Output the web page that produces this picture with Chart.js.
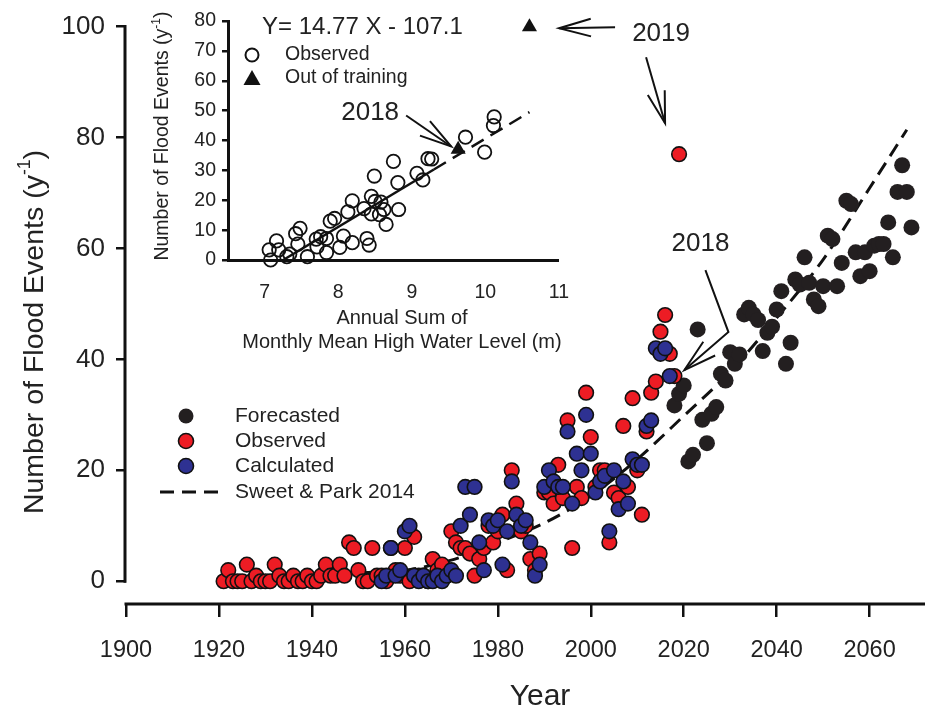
<!DOCTYPE html>
<html lang="en">
<head>
<meta charset="UTF-8">
<title>Number of Flood Events</title>
<script src="https://cdn.jsdelivr.net/npm/chart.js"></script>
<style>
  body { margin: 0; background: #fff; }
  #wrap { position: relative; width: 925px; height: 712px; }
  #main { position: absolute; left: 0; top: 0; }
  #inset { position: absolute; left: 140px; top: 0; }
</style>
</head>
<body>
<div id="wrap">
  <canvas id="main" width="925" height="712"></canvas>
  <canvas id="inset" width="450" height="370"></canvas>
</div>
<script>
// ---- main panel data ----
const obsStart = 1921;
const observed = [
  0, 2, 0, 0, 0, 3, 0, 1, 0, 0,
  0, 3, 1, 0, 0, 1, 0, 0, 1, 0,
  0, 1, 3, 1, 1, 3, 1, 7, 6, 2,
  0, 0, 6, 1, 1, 0, 6, 2, 1, 6,
  0, 8, 1, 1, 0, 4, 2, 3, 1, 9,
  7, 6, 6, 5, 1, 4, 6, 10, 7, 9,
  12, 2, 20, 14, 9, 10, 4, 2, 5, 16,
  16, 14, 21, 15, 29, 6, 17, 15, 34, 26,
  17, 20, 20, 7, 16, 15, 28, 17, 33, 20,
  12, 27, 34, 36, 45, 48, 41, 37, 77
];
const calcStart = 1955;
const calculated = [
  0, 1, 6, 1, 2, 9, 10, 1, 0, 1,
  0, 0, 1, 0, 1, 2, 1, 10, 17, 12,
  17, 7, 2, 11, 10, 11, 3, 9, 18, 12,
  10, 11, 7, 1, 3, 17, 20, 18, 17, 17,
  27, 14, 23, 20, 30, 23, 16, 18, 19, 9,
  20, 13, 18, 14, 22, 21, 21, 28, 29, 42,
  41, 42, 37
];
const fcStart = 2018;
const forecasted = [
  31.7, 33.8, 35.3, 21.6, 22.8, 45.4, 29.1, 24.9, 30.2, 31.4,
  37.4, 36.2, 41.3, 39.2, 40.9, 48.1, 49.3, 48.1, 47.1, 41.5,
  44.8, 45.9, 49.0, 52.3, 39.2, 43.0, 54.4, 53.5, 58.4, 53.8,
  50.8, 49.6, 53.2, 62.3, 61.7, 53.2, 57.4, 68.6, 68.0, 59.3,
  55.0, 59.3, 55.9, 60.5, 60.8, 60.8, 64.7, 58.4, 70.2, 75.0,
  70.2, 63.8
];
const sweetYears  = [1950, 1960, 1970, 1980, 1990, 2000, 2010, 2020, 2030, 2040, 2050, 2060, 2068];
const sweetValues = [1.5, 2, 3.8, 7, 10.5, 15.4, 22, 29.8, 37.8, 47.5, 58, 70.9, 81.4];
const yearTicks  = [1900, 1920, 1940, 1960, 1980, 2000, 2020, 2040, 2060];
const countTicks = [0, 20, 40, 60, 80, 100];

// ---- inset data ----
const levelObs = [7.06, 7.08, 7.16, 7.19, 7.30, 7.34, 7.42, 7.48, 7.45, 7.58,
  7.71, 7.76, 7.70, 7.84, 7.84, 7.89, 7.95, 8.02, 8.07, 8.13,
  8.19, 8.19, 8.39, 8.42, 8.35, 8.45, 8.49, 8.45, 8.50, 8.58,
  8.56, 8.62, 8.65, 8.75, 8.81, 8.82, 9.07, 9.15, 9.22, 9.27,
  9.73, 9.99, 10.11, 10.12];
const eventsObs = [3.4, 0, 6.4, 3.4, 1.1, 2, 8.8, 10.6, 5.3, 1.1,
  4.4, 7.8, 7, 2.5, 7.2, 13, 13.9, 4.2, 8, 16.1,
  5.8, 19.8, 7.2, 5, 17.2, 21.3, 28.1, 15.4, 19.6, 19.4,
  15.2, 16.9, 11.9, 33, 25.9, 16.9, 29, 26.8, 33.9, 33.8,
  41.1, 36.1, 45, 47.9];
const levelOut  = [9.63, 10.6];   // 2018, 2019
const eventsOut = [37, 78];
const fitSolidX = [7.25, 9.3];
const fitSolidY = [0, 30.3];
const fitDashX  = [9.3, 10.6];
const fitDashY  = [30.3, 49.5];
const levelTicks = [7, 8, 9, 10, 11];
const eventTicks = [0, 10, 20, 30, 40, 50, 60, 70, 80];

const FONT = '"Liberation Sans", Arial, sans-serif';
const RED = '#ED1C24', BLUE = '#2E3192', BLACK = '#231F20';

const series = (start, vals) => vals.map((v, i) => ({ x: start + i, y: v }));
const pairs = (xs, ys) => xs.map((x, i) => ({ x: x, y: ys[i] }));

function arrow(ctx, pts, head, ang) {
  ctx.beginPath();
  ctx.moveTo(pts[0][0], pts[0][1]);
  pts.slice(1).forEach(p => ctx.lineTo(p[0], p[1]));
  ctx.stroke();
  const [x1, y1] = pts[pts.length - 2], [x2, y2] = pts[pts.length - 1];
  const a = Math.atan2(y2 - y1, x2 - x1);
  ctx.beginPath();
  ctx.moveTo(x2 - head * Math.cos(a - ang), y2 - head * Math.sin(a - ang));
  ctx.lineTo(x2, y2);
  ctx.lineTo(x2 - head * Math.cos(a + ang), y2 - head * Math.sin(a + ang));
  ctx.stroke();
}

function supTitle(ctx, cx, cy, size) {
  const a = 'Number of Flood Events (y', b = '-1', c = ')';
  ctx.save();
  ctx.translate(cx, cy);
  ctx.rotate(-Math.PI / 2);
  ctx.fillStyle = '#222';
  ctx.textBaseline = 'middle';
  ctx.textAlign = 'left';
  ctx.font = size + 'px ' + FONT;
  const wa = ctx.measureText(a).width, wc = ctx.measureText(c).width;
  ctx.font = (size * 0.62) + 'px ' + FONT;
  const wb = ctx.measureText(b).width;
  let x = -(wa + wb + wc) / 2;
  ctx.font = size + 'px ' + FONT;
  ctx.fillText(a, x, 0); x += wa;
  ctx.font = (size * 0.62) + 'px ' + FONT;
  ctx.fillText(b, x, -size * 0.33); x += wb;
  ctx.font = size + 'px ' + FONT;
  ctx.fillText(c, x, 0);
  ctx.restore();
}

function dot(ctx, x, y, r, fill, stroke) {
  ctx.beginPath();
  ctx.arc(x, y, r, 0, Math.PI * 2);
  if (fill) { ctx.fillStyle = fill; ctx.fill(); }
  if (stroke) { ctx.lineWidth = 1.6; ctx.strokeStyle = stroke; ctx.stroke(); }
}

const mainDecor = {
  id: 'mainDecor',
  afterDraw(chart) {
    const ctx = chart.ctx, xs = chart.scales.x, ys = chart.scales.y, area = chart.chartArea;
    ctx.save();
    ctx.strokeStyle = '#111';
    ctx.lineWidth = 3;
    ctx.beginPath();
    ctx.moveTo(area.left - 1, ys.getPixelForValue(0) + 1.5);
    ctx.lineTo(area.left - 1, ys.getPixelForValue(100) - 1.5);
    ctx.stroke();
    ctx.beginPath();
    ctx.moveTo(xs.getPixelForValue(1900) - 1.5, area.bottom);
    ctx.lineTo(chart.width, area.bottom);
    ctx.stroke();

    supTitle(ctx, 35, 332, 28.5);
    ctx.fillStyle = '#222';
    ctx.font = '30px ' + FONT;
    ctx.textAlign = 'center';
    ctx.textBaseline = 'middle';
    ctx.fillText('Year', 540, 697);

    // legend
    const lx = 186, tx = 235, rows = [416, 441, 466, 492];
    dot(ctx, lx, rows[0], 7.5, BLACK, null);
    dot(ctx, lx, rows[1], 7.5, RED, '#111');
    dot(ctx, lx, rows[2], 7.5, BLUE, '#111');
    ctx.setLineDash([14, 8]);
    ctx.lineWidth = 3;
    ctx.strokeStyle = '#111';
    ctx.beginPath(); ctx.moveTo(160, rows[3]); ctx.lineTo(218, rows[3]); ctx.stroke();
    ctx.setLineDash([]);
    ctx.fillStyle = '#222';
    ctx.font = '21px ' + FONT;
    ctx.textAlign = 'left';
    ['Forecasted', 'Observed', 'Calculated', 'Sweet & Park 2014'].forEach((t, i) => ctx.fillText(t, tx, rows[i]));

    // annotations anchored on observed 2019 and 2018
    ctx.lineWidth = 2;
    ctx.strokeStyle = '#111';
    const p19x = xs.getPixelForValue(2019), p19y = ys.getPixelForValue(observed[2019 - obsStart]);
    ctx.font = '26px ' + FONT;
    ctx.textAlign = 'center';
    ctx.fillText('2019', p19x - 18, p19y - 120);
    arrow(ctx, [[p19x - 64, p19y - 127], [p19x - 120, p19y - 126]], 33, 0.27);
    arrow(ctx, [[p19x - 33, p19y - 97], [p19x - 14, p19y - 31]], 33, 0.27);
    const p18x = xs.getPixelForValue(2018), p18y = ys.getPixelForValue(observed[2018 - obsStart]);
    ctx.fillText('2018', p18x + 26, p18y - 132);
    arrow(ctx, [[p18x + 31, p18y - 106], [p18x + 54, p18y - 44], [p18x + 10, p18y - 6]], 34, 0.27);
    ctx.restore();
  }
};

new Chart(document.getElementById('main'), {
  type: 'scatter',
  data: {
    datasets: [
      { label: 'Calculated', data: series(calcStart, calculated), order: 1, clip: false,
        backgroundColor: BLUE, borderColor: '#111', borderWidth: 1.6, pointRadius: 7.3 },
      { label: 'Observed', data: series(obsStart, observed), order: 2, clip: false,
        backgroundColor: RED, borderColor: '#111', borderWidth: 1.6, pointRadius: 7.3 },
      { label: 'Forecasted', data: series(fcStart, forecasted), order: 3, clip: false,
        backgroundColor: BLACK, borderColor: BLACK, borderWidth: 0, pointRadius: 8 },
      { label: 'Sweet & Park 2014', type: 'line', data: pairs(sweetYears, sweetValues), order: 4,
        showLine: true, borderColor: '#111', borderWidth: 3, borderDash: [14, 8],
        pointRadius: 0, fill: false, cubicInterpolationMode: 'monotone', clip: false }
    ]
  },
  options: {
    responsive: false,
    animation: false,
    layout: { padding: { top: 21, right: 5, left: 0, bottom: 0 } },
    plugins: { legend: { display: false }, tooltip: { enabled: false } },
    scales: {
      x: {
        type: 'linear', min: 1900, max: 2070,
        afterBuildTicks: s => { s.ticks = yearTicks.map(v => ({ value: v })); },
        afterFit: s => { s.height = 108; },
        border: { display: false },
        grid: { display: true, drawOnChartArea: false, drawTicks: true, tickLength: 13, lineWidth: 2.5, color: '#111' },
        ticks: { color: '#222', font: { family: FONT, size: 23.5 }, padding: 19, maxRotation: 0, autoSkip: false,
                 callback: v => String(v) }
      },
      y: {
        type: 'linear', min: -4.1, max: 100,
        afterBuildTicks: s => { s.ticks = countTicks.map(v => ({ value: v })); },
        afterFit: s => { s.width = 126; },
        border: { display: false },
        grid: { display: true, drawOnChartArea: false, drawTicks: true, tickLength: 10, lineWidth: 2.5, color: '#111' },
        ticks: { color: '#222', font: { family: FONT, size: 26 }, padding: 11, callback: v => String(v) }
      }
    }
  },
  plugins: [mainDecor]
});

const insetDecor = {
  id: 'insetDecor',
  afterDraw(chart) {
    const ctx = chart.ctx, xs = chart.scales.x, ys = chart.scales.y;
    ctx.save();
    supTitle(ctx, 23, 136, 19.5);
    ctx.fillStyle = '#222';
    ctx.textAlign = 'center';
    ctx.textBaseline = 'middle';
    ctx.font = '20px ' + FONT;
    ctx.fillText('Annual Sum of', 262, 318);
    ctx.fillText('Monthly Mean High Water Level (m)', 262, 342);

    ctx.textAlign = 'left';
    ctx.font = '24px ' + FONT;
    ctx.fillText('Y= 14.77 X - 107.1', 122, 27);
    ctx.font = '19.5px ' + FONT;
    ctx.fillText('Observed', 145, 55);
    ctx.fillText('Out of training', 145, 78);
    ctx.lineWidth = 2;
    ctx.strokeStyle = '#111';
    ctx.beginPath(); ctx.arc(112, 55, 6.5, 0, Math.PI * 2); ctx.stroke();
    ctx.fillStyle = '#111';
    ctx.beginPath(); ctx.moveTo(112, 70); ctx.lineTo(120.5, 85); ctx.lineTo(103.5, 85); ctx.closePath(); ctx.fill();

    const tx = xs.getPixelForValue(levelOut[0]), ty = ys.getPixelForValue(eventsOut[0]);
    ctx.fillStyle = '#222';
    ctx.textAlign = 'center';
    ctx.font = '26px ' + FONT;
    ctx.fillText('2018', tx - 88, ty - 37);
    ctx.lineWidth = 2;
    arrow(ctx, [[tx - 52, ty - 34], [tx - 7, ty - 3]], 33, 0.27);
    ctx.restore();
  }
};

new Chart(document.getElementById('inset'), {
  type: 'scatter',
  data: {
    datasets: [
      { label: 'Observed', data: pairs(levelObs, eventsObs), clip: false,
        backgroundColor: 'rgba(0,0,0,0)', borderColor: '#111', borderWidth: 1.8, pointRadius: 6.7 },
      { label: 'Out of training', data: pairs(levelOut, eventsOut), clip: false,
        pointStyle: 'triangle', backgroundColor: '#111', borderColor: '#111', borderWidth: 0, pointRadius: 8.7 },
      { label: 'fit', type: 'line', data: pairs(fitSolidX, fitSolidY), showLine: true,
        borderColor: '#111', borderWidth: 2.5, pointRadius: 0, fill: false },
      { label: 'fit out', type: 'line', data: pairs(fitDashX, fitDashY), showLine: true,
        borderColor: '#111', borderWidth: 2.5, borderDash: [14, 8], pointRadius: 0, fill: false }
    ]
  },
  options: {
    responsive: false,
    animation: false,
    layout: { padding: { top: 21, right: 16, left: 0, bottom: 0 } },
    plugins: { legend: { display: false }, tooltip: { enabled: false } },
    scales: {
      x: {
        type: 'linear', min: 6.5, max: 11,
        afterBuildTicks: s => { s.ticks = levelTicks.map(v => ({ value: v })); },
        afterFit: s => { s.height = 110; },
        border: { display: true, width: 3, color: '#111' },
        grid: { display: false, drawTicks: false },
        ticks: { color: '#222', font: { family: FONT, size: 19.5 }, padding: 21, maxRotation: 0, autoSkip: false,
                 callback: v => String(v) }
      },
      y: {
        type: 'linear', min: 0, max: 80,
        afterBuildTicks: s => { s.ticks = eventTicks.map(v => ({ value: v })); },
        afterFit: s => { s.width = 88; },
        border: { display: true, width: 3, color: '#111' },
        grid: { display: true, drawOnChartArea: false, drawTicks: true, tickLength: 6, lineWidth: 2.5, color: '#111' },
        ticks: { color: '#222', font: { family: FONT, size: 19.5 }, padding: 6, callback: v => String(v) }
      }
    }
  },
  plugins: [insetDecor]
});
</script>
</body>
</html>
